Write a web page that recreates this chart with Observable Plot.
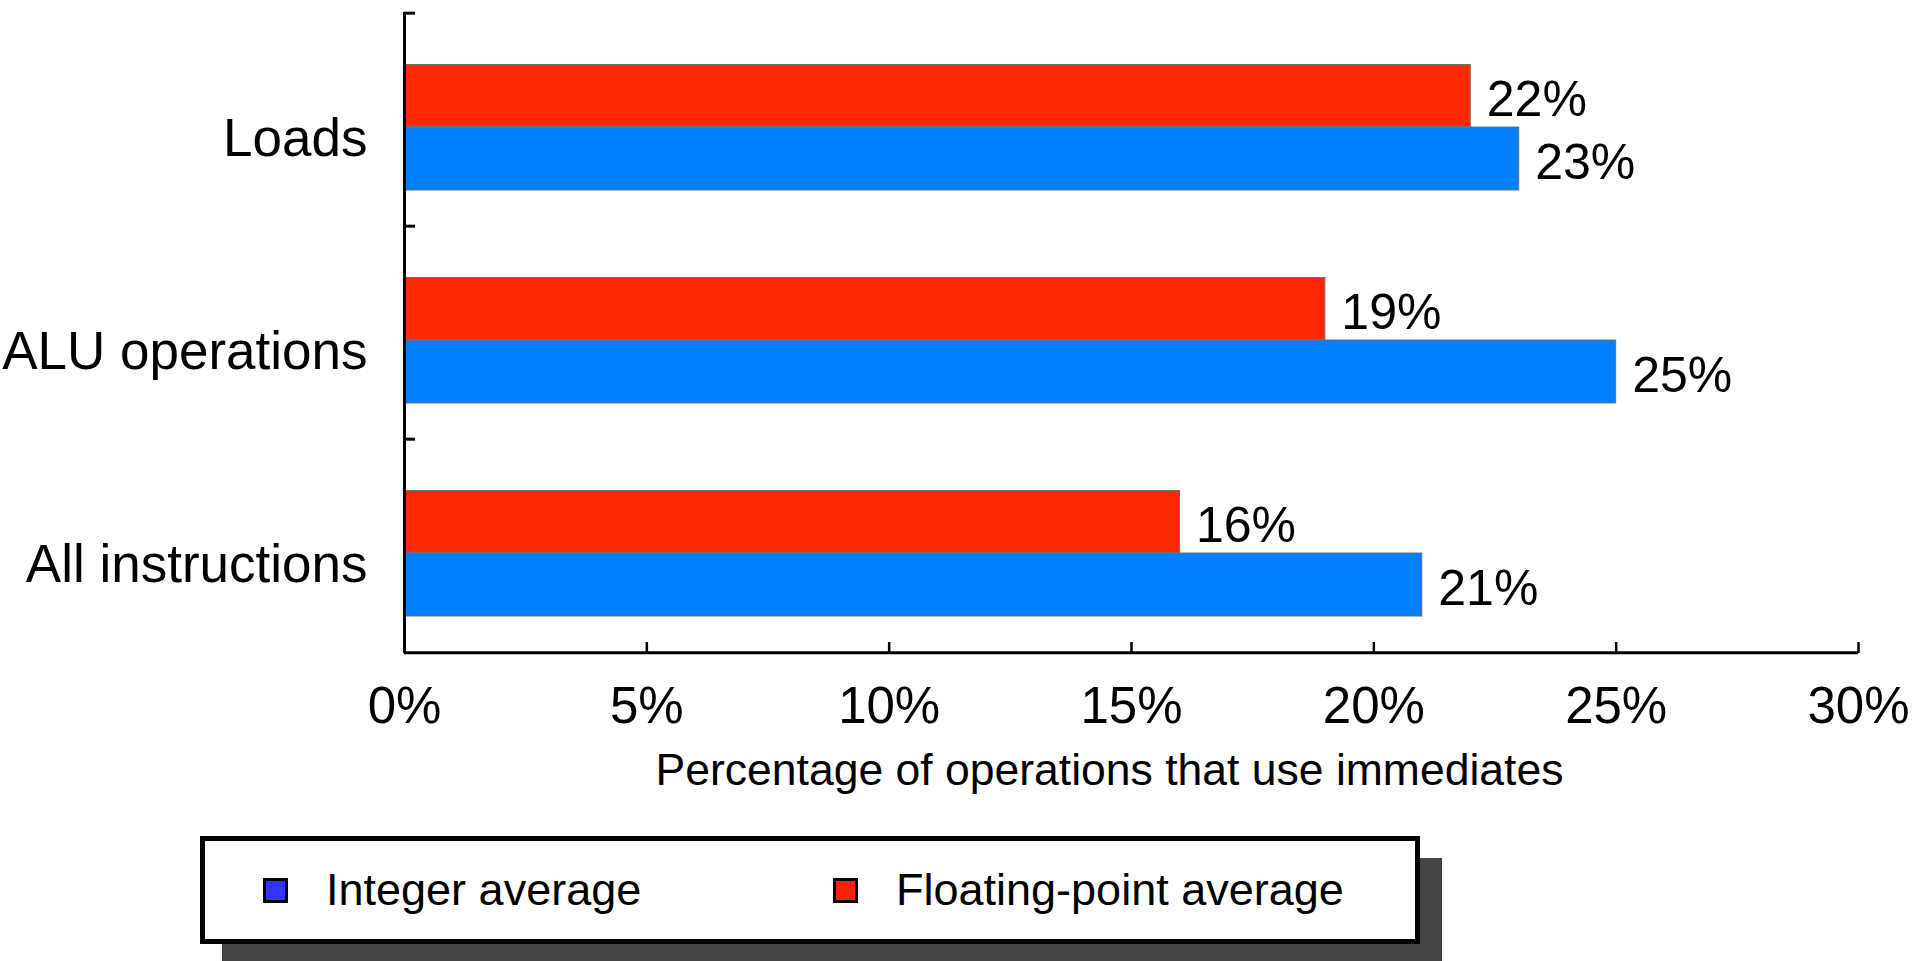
<!DOCTYPE html>
<html>
<head>
<meta charset="utf-8">
<script src="https://cdn.jsdelivr.net/npm/d3@7"></script>
<script src="https://cdn.jsdelivr.net/npm/@observablehq/plot@0.6"></script>
<style>
  html, body { margin: 0; padding: 0; background: #fff; width: 1920px; height: 961px; overflow: hidden; }
  body { font-family: "Liberation Sans", Arial, Helvetica, sans-serif; position: relative; }
  #chart { position: absolute; left: 0; top: 0; }
  #legend { position: absolute; left: 200px; top: 836px; width: 1220px; height: 108px; box-sizing: border-box;
            border: 5px solid #000; background: #fff; box-shadow: 22px 22px 0 #444; }
  .item { position: absolute; top: 0; height: 98px; display: flex; align-items: center; }
  .sw { width: 19px; height: 19px; border: 3px solid #000; margin-right: 38px; }
  .lt { font-size: 45px; color: #000; }
</style>
</head>
<body>
<div id="chart"></div>
<div id="legend"></div>
<script>
// ---- data ----
const categories = ["Loads", "ALU operations", "All instructions"];
const integerAverage = [23, 25, 21];
const floatingPointAverage = [22, 19, 16];
const xTicks = [0, 5, 10, 15, 20, 25, 30];
const seriesNames = ["Integer average", "Floating-point average"];
const xTitle = "Percentage of operations that use immediates";

// ---- styles ----
const barColors = ["#0080ff", "#ff2800"];
const swatchColors = ["#3333ff", "#ff2200"];
const W = 1920, H = 820;
const mL = 404, mR = 62, mT = 12, mB = 167;
const plotW = W - mL - mR, plotH = H - mT - mB;
const bw = plotH / categories.length;
const font = "'Liberation Sans', Arial, Helvetica, sans-serif";

const intData = categories.map((c, i) => ({category: c, value: integerAverage[i]}));
const fpData = categories.map((c, i) => ({category: c, value: floatingPointAverage[i]}));

const chart = Plot.plot({
  width: W, height: H,
  marginLeft: mL, marginRight: mR, marginTop: mT, marginBottom: mB,
  style: {fontFamily: font, color: "#000", background: "#fff", overflow: "visible"},
  x: {domain: [0, 30], label: null},
  y: {domain: categories, padding: 0, label: null},
  marks: [
    Plot.barX(fpData, {x: "value", y: "category", fill: barColors[1], stroke: "#707070", strokeWidth: 1, insetTop: 51.5, insetBottom: 99.5}),
    Plot.barX(intData, {x: "value", y: "category", fill: barColors[0], stroke: "#707070", strokeWidth: 1, insetTop: 114, insetBottom: 36}),
    Plot.text(fpData, {x: "value", y: "category", text: d => d.value + "%", dx: 16, dy: -20, textAnchor: "start", fontSize: 50, fill: "#000"}),
    Plot.text(intData, {x: "value", y: "category", text: d => d.value + "%", dx: 16, dy: 43, textAnchor: "start", fontSize: 50, fill: "#000"}),
    Plot.ruleX([0], {stroke: "#000", strokeWidth: 3}),
    Plot.ruleY([categories[categories.length - 1]], {y: d => d, dy: bw / 2, stroke: "#000", strokeWidth: 3}),
    Plot.tickY(categories, {y: d => d, dy: -bw / 2, insetRight: plotW - 11, stroke: "#000", strokeWidth: 3}),
    Plot.tickX(xTicks, {x: d => d, insetTop: plotH - 11, stroke: "#000", strokeWidth: 2.5}),
    Plot.axisX({ticks: xTicks, tickFormat: d => d + "%", tickSize: 0, tickPadding: 33, fontSize: 51, label: null}),
    Plot.axisY({tickSize: 0, tickPadding: 37, fontSize: 53, dy: 19, label: null}),
    Plot.text([xTitle], {frameAnchor: "bottom", dx: -22, dy: 100, lineAnchor: "top", fontSize: 44.5, fill: "#000"})
  ]
});
document.getElementById("chart").appendChild(chart);

// ---- legend ----
const legend = document.getElementById("legend");
const itemLeft = [58, 628];
seriesNames.forEach((name, i) => {
  const item = document.createElement("div");
  item.className = "item";
  item.style.left = itemLeft[i] + "px";
  const sw = document.createElement("div");
  sw.className = "sw";
  sw.style.background = swatchColors[i];
  const t = document.createElement("span");
  t.className = "lt";
  t.textContent = name;
  item.appendChild(sw); item.appendChild(t);
  legend.appendChild(item);
});
</script>
</body>
</html>
